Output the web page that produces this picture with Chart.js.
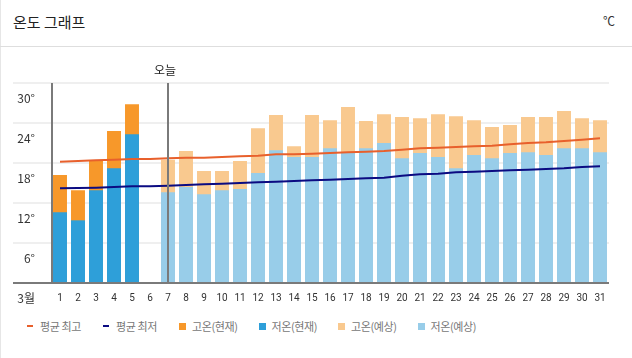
<!DOCTYPE html>
<html>
<head>
<meta charset="utf-8">
<script src="https://cdn.jsdelivr.net/npm/chart.js@4"></script>
<style>
  html, body { margin: 0; padding: 0; background: #fff; }
  body { width: 632px; height: 358px; position: relative; overflow: hidden; font-family: 'Noto Sans CJK KR', 'Noto Sans', sans-serif; }
  .card { position: absolute; left: 0; top: 0; width: 631px; height: 358px; border-left: 1px solid #e6e6e6; }
  .head { position: absolute; left: 0; top: 0; width: 632px; height: 46px; border-bottom: 1px solid #dedede; }
  .title { position: absolute; left: 13px; top: 11px; font-size: 15px; color: #222; }
  .unit { position: absolute; right: 17px; top: 12px; font-size: 12px; color: #333; }
  .wrap { position: absolute; left: 0; top: 47px; width: 632px; height: 258px; }
  .legend { position: absolute; left: 27px; top: 318px; height: 16px; display: flex; align-items: center;
    font-size: 11px; letter-spacing: -0.4px; color: #777; }
  .legend span { display: flex; align-items: center; white-space: pre; }
  .legend span.w76 { width: 76px; }
  .legend span.w80 { width: 79.5px; }
  .legend i { display: inline-block; width: 7px; height: 7px; margin-right: 6px; }
  .legend i.line { width: 6px; height: 2px; margin-right: 7px; }
</style>
</head>
<body>
<div class="card"></div>
<div class="head">
  <div class="title">온도 그래프</div>
  <div class="unit">℃</div>
</div>
<div class="wrap"><canvas id="tempChart"></canvas></div>
<div class="legend" id="legend"></div>
<script>
// 3월 날짜
const days = ['1','2','3','4','5','6','7','8','9','10','11','12','13','14','15','16',
  '17','18','19','20','21','22','23','24','25','26','27','28','29','30','31'];
const monthLabel = '3월';
const todayLabel = '오늘';
const todayIndex = 6;
const yTicks = [0, 6, 12, 18, 24, 30];

// 현재 (관측)
const highNow = [16.2, 13.9, 18.3, 22.8, 26.8, null, null, null, null, null, null, null, null, null, null, null,
  null, null, null, null, null, null, null, null, null, null, null, null, null, null, null];
const lowNow = [10.6, 9.4, 13.9, 17.2, 22.3, null, null, null, null, null, null, null, null, null, null, null,
  null, null, null, null, null, null, null, null, null, null, null, null, null, null, null];

// 예상
const highFcst = [null, null, null, null, null, null, 18.5, 19.8, 16.8, 16.8, 18.3, 23.2, 25.2, 20.5, 25.2, 24.4,
  26.4, 24.3, 25.3, 24.9, 24.7, 25.3, 25.0, 24.4, 23.4, 23.7, 24.9, 24.9, 25.8, 24.7, 24.4];
const lowFcst = [null, null, null, null, null, null, 13.6, 14.4, 13.3, 13.9, 14.1, 16.5, 19.9, 18.9, 18.9, 20.2,
  19.5, 20.2, 21.0, 18.7, 19.5, 18.9, 17.2, 19.2, 18.7, 19.5, 19.6, 19.2, 20.2, 20.2, 19.6];

// 평년값
const avgHigh = [18.2, 18.3, 18.4, 18.5, 18.6, 18.6, 18.7, 18.8, 18.8, 18.9, 19.0, 19.1, 19.3, 19.3, 19.4, 19.5,
  19.6, 19.7, 19.8, 20.0, 20.2, 20.3, 20.4, 20.5, 20.6, 20.8, 21.0, 21.1, 21.3, 21.5, 21.7];
const avgLow = [14.2, 14.25, 14.3, 14.4, 14.5, 14.5, 14.6, 14.7, 14.8, 14.9, 15.0, 15.1, 15.2, 15.3, 15.4, 15.5,
  15.6, 15.7, 15.8, 16.1, 16.3, 16.4, 16.6, 16.7, 16.8, 16.9, 17.0, 17.1, 17.2, 17.4, 17.5];

const C_AVG_HIGH = '#e8602c';
const C_AVG_LOW = '#0b0b82';
const C_HIGH_NOW = '#f7982a';
const C_LOW_NOW = '#2e9fd9';
const C_HIGH_FC = '#f9c98f';
const C_LOW_FC = '#98cde9';

// 격자선, 축선, 오늘 표시
const guides = {
  id: 'guides',
  beforeDatasetsDraw(chart) {
    const { ctx, chartArea, scales } = chart;
    const y = scales.y;
    ctx.save();
    yTicks.forEach(v => {
      if (v === 0) return;
      const py = y.getPixelForValue(v);
      ctx.strokeStyle = '#efefef';
      ctx.lineWidth = 2;
      ctx.beginPath();
      ctx.moveTo(13, py);
      ctx.lineTo(chartArea.right, py);
      ctx.stroke();
    });
    ctx.restore();
  },
  afterDatasetsDraw(chart) {
    const { ctx, chartArea, scales } = chart;
    const y = scales.y;
    const x = scales.x;
    ctx.save();
    ctx.strokeStyle = '#7a7a7a';
    ctx.lineWidth = 2;
    // 좌측 축
    ctx.beginPath();
    ctx.moveTo(chartArea.left + 1, y.getPixelForValue(30));
    ctx.lineTo(chartArea.left + 1, y.getPixelForValue(0));
    ctx.stroke();
    // 오늘
    const tx = x.getPixelForValue(todayIndex);
    ctx.beginPath();
    ctx.moveTo(tx, y.getPixelForValue(30));
    ctx.lineTo(tx, y.getPixelForValue(0));
    ctx.stroke();
    // 바닥선
    ctx.beginPath();
    ctx.moveTo(13, y.getPixelForValue(0));
    ctx.lineTo(chartArea.right, y.getPixelForValue(0));
    ctx.stroke();
    ctx.fillStyle = '#222';
    ctx.font = '12px "Noto Sans CJK KR"';
    ctx.textAlign = 'center';
    ctx.textBaseline = 'middle';
    ctx.fillText(todayLabel, tx - 3, y.getPixelForValue(30) - 13);
    ctx.restore();
  }
};

const legendItems = [
  { text: '평균 최고', color: C_AVG_HIGH, style: 'line' },
  { text: '평균 최저', color: C_AVG_LOW, style: 'line' },
  { text: '고온(현재)', color: C_HIGH_NOW, style: 'rect' },
  { text: '저온(현재)', color: C_LOW_NOW, style: 'rect' },
  { text: '고온(예상)', color: C_HIGH_FC, style: 'rect' },
  { text: '저온(예상)', color: C_LOW_FC, style: 'rect' }
];

// 범례
document.getElementById('legend').innerHTML = legendItems.map(it =>
  '<span class="' + (it.style === 'line' ? 'w76' : 'w80') + '"><i class="' + it.style +
  '" style="background:' + it.color + '"></i>' + it.text + '</span>'
).join('');

const ctx = document.getElementById('tempChart').getContext('2d');
new Chart(ctx, {
  type: 'bar',
  data: {
    labels: days,
    datasets: [
      { type: 'line', label: '평균 최고', data: avgHigh, borderColor: C_AVG_HIGH, borderWidth: 2, pointRadius: 0, tension: 0, order: 0 },
      { type: 'line', label: '평균 최저', data: avgLow, borderColor: C_AVG_LOW, borderWidth: 2, pointRadius: 0, tension: 0, order: 0 },
      { label: '고온(현재)', data: highNow, backgroundColor: C_HIGH_NOW, grouped: false, order: 2 },
      { label: '저온(현재)', data: lowNow, backgroundColor: C_LOW_NOW, grouped: false, order: 1 },
      { label: '고온(예상)', data: highFcst, backgroundColor: C_HIGH_FC, grouped: false, order: 2 },
      { label: '저온(예상)', data: lowFcst, backgroundColor: C_LOW_FC, grouped: false, order: 1 }
    ]
  },
  options: {
    responsive: true,
    maintainAspectRatio: false,
    animation: false,
    layout: { padding: { left: 6, right: 23, top: 36, bottom: 0 } },
    datasets: { bar: { categoryPercentage: 0.8, barPercentage: 0.97 } },
    scales: {
      x: {
        afterFit(scale) { scale.height = 22; },
        grid: { display: false, drawTicks: false },
        border: { display: false },
        ticks: { color: '#333', font: { family: 'Roboto', size: 10 }, padding: 9, maxRotation: 0, autoSkip: false }
      },
      y: {
        min: 0,
        max: 30,
        afterFit(scale) { scale.width = 45; },
        afterBuildTicks(scale) { scale.ticks = yTicks.map(v => ({ value: v })); },
        grid: { display: false },
        border: { display: false },
        ticks: {
          color: '#333',
          font: { family: 'Noto Sans CJK KR', size: 12 },
          padding: 8,
          labelOffset: 15,
          callback: v => v === 0 ? monthLabel : v + '°'
        }
      }
    },
    plugins: {
      tooltip: { enabled: false },
      legend: { display: false }
    }
  },
  plugins: [guides]
});
</script>
</body>
</html>
